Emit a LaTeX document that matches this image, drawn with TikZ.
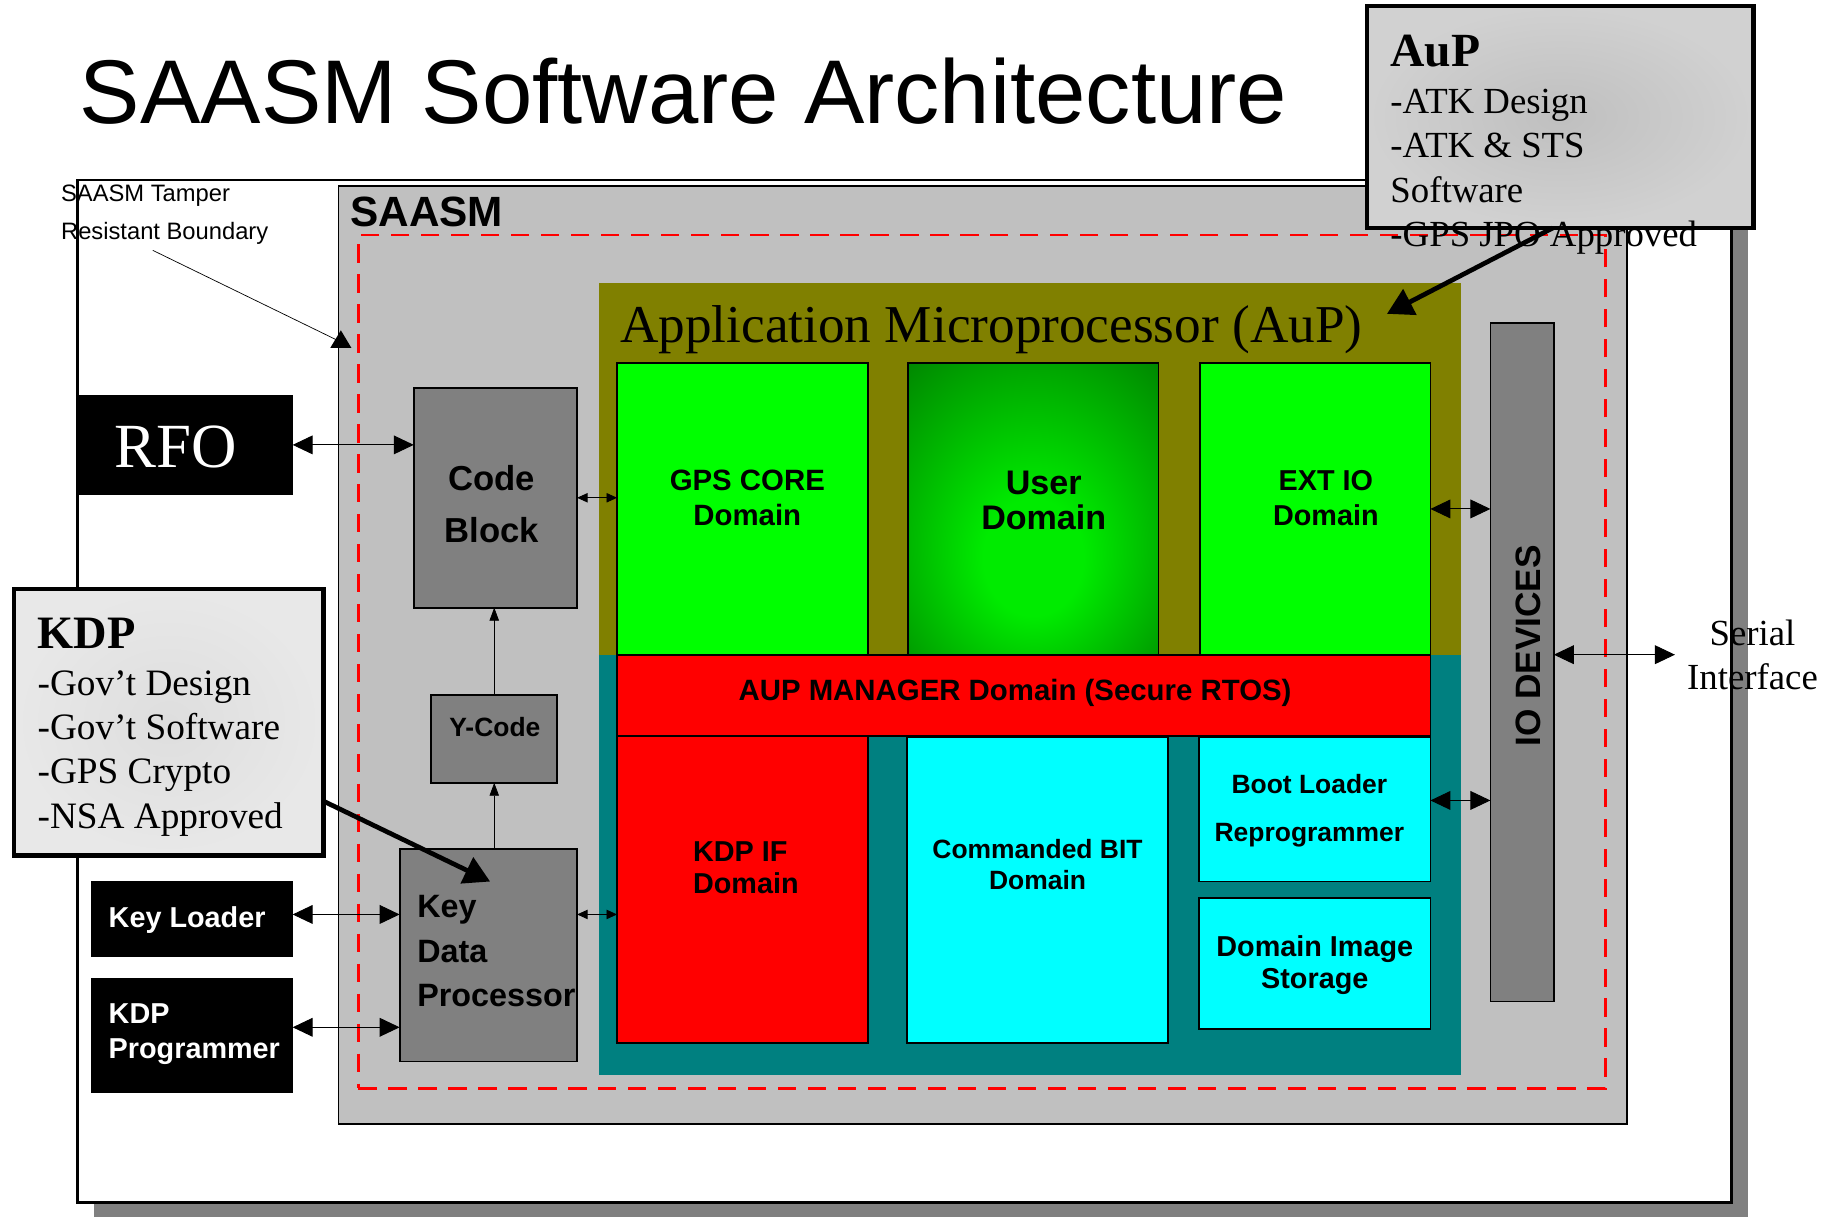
\documentclass[tikz,border=0pt]{standalone}
\usepackage{fontspec}
\setmainfont{Liberation Serif}
\setsansfont{Liberation Sans}
\usetikzlibrary{arrows.meta,calc}
\definecolor{cOlive}{RGB}{128,128,0}
\definecolor{cTeal}{RGB}{0,128,128}
\definecolor{cGreen}{RGB}{0,255,0}
\definecolor{cRed}{RGB}{255,0,0}
\definecolor{cCyan}{RGB}{0,255,255}
\definecolor{cDark}{RGB}{128,128,128}
\definecolor{cSilver}{RGB}{192,192,192}
\definecolor{ucen}{RGB}{0,235,0}
\definecolor{uedge}{RGB}{0,108,0}
\definecolor{aupin}{gray}{0.75}
\definecolor{aupout}{gray}{0.82}
\definecolor{kdpin}{gray}{0.87}
\definecolor{kdpout}{gray}{0.91}
\pgfdeclareradialshading{userglow}{\pgfpoint{0bp}{-10bp}}{color(0bp)=(ucen); color(10bp)=(ucen); color(46bp)=(uedge); color(60bp)=(uedge)}
\newcommand\fsz[2]{\fontsize{#1}{#2}\selectfont}
\begin{document}
\begin{tikzpicture}[x=1pt,y=-1pt,
  box/.style={draw=black, line width=1.5pt, inner sep=0pt, outer sep=0pt},
  flat/.style={inner sep=0pt, outer sep=0pt},
  lbl/.style={inner sep=0pt, outer sep=0pt},
  conn/.style={line width=0.8pt, >={Triangle[length=17pt,width=16pt]}, <->},
  sconn/.style={line width=0.8pt, >={Triangle[length=9pt,width=8pt]}, <->},
  upconn/.style={line width=0.6pt, -{Triangle[length=11pt,width=8pt]}},
  fat/.style={line width=4pt, -{Triangle[length=22pt,width=24pt]}},
  bs/.style={font=\sffamily\bfseries\fsz{#1}{#1}},
]
\useasboundingbox (0,0) rectangle (1568,1035);
\fill[white] (0,0) rectangle (1568,1035);
% shadow and outer boundary
\fill[cDark] (80,166) rectangle (1487,1035);
\node[box, fill=white, line width=2pt, minimum width=1407pt, minimum height=870pt] (outer) at (769.5,588) {};
% title
\node[lbl, anchor=base west, font=\sffamily\fsz{77}{77}] (title) at (68,105) {SAASM Software Architecture};
% tamper label
\node[lbl, anchor=base west, font=\sffamily\fsz{20.2}{32}] (tamper) at (52,171.6) {\begin{tabular}[t]{@{}l@{}}SAASM Tamper\\Resistant Boundary\end{tabular}};
% SAASM box
\node[box, fill=cSilver, minimum width=1096pt, minimum height=798pt] (saasm) at (836,557) {};
\node[lbl, anchor=base west, bs=36] (tsaasm) at (298,193) {SAASM};
\node[flat, draw=cRed, line width=2.2pt, dash pattern=on 15.5pt off 10pt, minimum width=1061pt, minimum height=726pt] (tamperb) at (835.5,563) {};
% leader line
\coordinate (tstart) at (130,213);
\coordinate (ttip) at (286,289);
\draw[line width=0.6pt] (tstart) -- (ttip);
\fill (290,281) -- (281,296) -- (299,296) -- cycle;
% AuP regions
\node[flat, fill=cOlive, minimum width=733pt, minimum height=316pt] (olive) at (876.5,399) {};
\node[flat, fill=cTeal, minimum width=733pt, minimum height=358pt] (teal) at (876.5,736) {};
\node[lbl, anchor=base west, font=\rmfamily\fsz{45.3}{45}] (taup) at (527.6,291.5) {Application Microprocessor (AuP)};
\node[box, fill=cGreen, minimum width=213.5pt, minimum height=248pt] (gps) at (631.75,433) {};
\node[box, shade, shading=userglow, minimum width=213.1pt, minimum height=248pt] (user) at (879.15,433) {};
\node[box, fill=cGreen, minimum width=196pt, minimum height=248pt] (ext) at (1119,433) {};
\node[box, fill=cRed, minimum width=692pt, minimum height=69pt] (mgr) at (871,591.5) {};
\node[box, fill=cRed, minimum width=213.5pt, minimum height=261.6pt] (kdpif) at (631.75,756.8) {};
\node[box, fill=cCyan, minimum width=222.4pt, minimum height=260.9pt] (cbit) at (882.8,757.15) {};
\node[box, fill=cCyan, minimum width=197pt, minimum height=123.3pt] (boot) at (1118.5,688.35) {};
\node[box, fill=cCyan, minimum width=197pt, minimum height=111.6pt] (dis) at (1118.5,819.8) {};
\node[box, fill=cDark, minimum width=54pt, minimum height=577pt] (io) at (1295,563.5) {};
% domain texts
\node[lbl, anchor=base, font=\sffamily\bfseries\fsz{25}{29.2}] (tgps) at (635.8,417.5) {\begin{tabular}[t]{@{}c@{}}GPS CORE\\Domain\end{tabular}};
\node[lbl, anchor=base, font=\sffamily\bfseries\fsz{29}{29.7}] (tuser) at (888,420.3) {\begin{tabular}[t]{@{}c@{}}User\\Domain\end{tabular}};
\node[lbl, anchor=base, font=\sffamily\bfseries\fsz{24.5}{29.7}] (text) at (1128,417) {\begin{tabular}[t]{@{}c@{}}EXT IO\\Domain\end{tabular}};
\node[lbl, anchor=base, bs=25] (tmgr) at (863.6,595.6) {AUP MANAGER Domain (Secure RTOS)};
\node[lbl, anchor=base west, font=\sffamily\bfseries\fsz{24.5}{27}] (tkdpif) at (589.6,733) {\begin{tabular}[t]{@{}l@{}}KDP IF\\Domain\end{tabular}};
\node[lbl, anchor=base, font=\sffamily\bfseries\fsz{22.5}{27}] (tcbit) at (882.7,730) {\begin{tabular}[t]{@{}c@{}}Commanded BIT\\Domain\end{tabular}};
\node[lbl, anchor=base, font=\sffamily\bfseries\fsz{22.5}{41.2}] (tboot) at (1114,674.8) {\begin{tabular}[t]{@{}c@{}}Boot Loader\\Reprogrammer\end{tabular}};
\node[lbl, anchor=base, font=\sffamily\bfseries\fsz{24.5}{26.6}] (tdis) at (1118.6,814) {\begin{tabular}[t]{@{}c@{}}Domain Image\\Storage\end{tabular}};
\node[lbl, rotate=90, bs=30] (tio) at (1300,549.5) {IO DEVICES};
% left processing blocks
\node[box, fill=cDark, minimum width=139pt, minimum height=187pt] (code) at (421.5,423.5) {};
\node[box, fill=cDark, minimum width=107pt, minimum height=75pt] (ycode) at (420.5,628.5) {};
\node[box, fill=cDark, minimum width=151pt, minimum height=181pt] (kdproc) at (415.5,812.5) {};
\node[lbl, anchor=base, font=\sffamily\bfseries\fsz{29.5}{44.7}] (tcode) at (418.5,417) {\begin{tabular}[t]{@{}c@{}}Code\\Block\end{tabular}};
\node[lbl, anchor=base, bs=22.5] (tycode) at (421,627) {Y-Code};
\node[lbl, anchor=base west, font=\sffamily\bfseries\fsz{27.5}{37.8}] (tkdproc) at (355,781) {\begin{tabular}[t]{@{}l@{}}Key\\Data\\Processor\end{tabular}};
% external black blocks
\node[flat, fill=black, minimum width=184pt, minimum height=85pt] (rfo) at (157,378.5) {};
\node[flat, fill=black, minimum width=171.6pt, minimum height=64.5pt] (kl) at (163.2,781.75) {};
\node[flat, fill=black, minimum width=171.6pt, minimum height=98.3pt] (kdpprog) at (163.2,880.85) {};
\node[lbl, anchor=base west, text=white, font=\rmfamily\fsz{53.5}{53}] (trfo) at (97.6,398) {RFO};
\node[lbl, anchor=base west, text=white, bs=24.5] (tkl) at (92.5,789.3) {Key Loader};
\node[lbl, anchor=base west, text=white, font=\sffamily\bfseries\fsz{24.5}{29.7}] (tkdpprog) at (92.5,871) {\begin{tabular}[t]{@{}l@{}}KDP\\Programmer\end{tabular}};
% connectors
\coordinate (ser) at (1425,557);
\draw[conn] (rfo.east) -- (rfo.east -| code.west);
\draw[sconn] (code.east) -- (code.east -| gps.west);
\draw[conn] (ext.east) -- (ext.east -| io.west);
\draw[conn] ([yshift=7.35pt]boot.east) -- ([yshift=7.35pt]boot.east -| io.west);
\draw[conn] ([yshift=6.5pt]io.east) -- (ser);
\draw[sconn] ([yshift=34.5pt]kdproc.east) -- ([yshift=34.5pt]kdproc.east -| kdpif.west);
\draw[conn] ([yshift=3.75pt]kl.east) -- ([yshift=3.75pt]kl.east -| kdproc.west);
\draw[conn] ([yshift=6.85pt]kdpprog.east) -- ([yshift=6.85pt]kdpprog.east -| kdproc.west);
\draw[upconn] (ycode.south |- kdproc.north) -- (ycode.south);
\draw[upconn] (ycode.north) -- (ycode.north |- code.south);
% KDP note
\node[draw=black, line width=4pt, inner sep=0pt, outer sep=0pt, inner color=kdpin, outer color=kdpout, minimum width=263pt, minimum height=227pt] (kdpn) at (143.5,614.5) {};
\node[lbl, anchor=base west, font=\rmfamily\bfseries\fsz{39.5}{40}] (tkdpn) at (32,552) {KDP};
\node[lbl, anchor=base west, font=\rmfamily\fsz{31.7}{37.5}] (tkdpl) at (32,592) {\begin{tabular}[t]{@{}l@{}}-Gov’t Design\\-Gov’t Software\\-GPS Crypto\\-NSA Approved\end{tabular}};
\coordinate (kdptip) at (417,750);
\draw[fat] ([yshift=-180.5pt]kdpn.north east) -- (kdptip);
% AuP note
\node[draw=black, line width=4pt, inner sep=0pt, outer sep=0pt, inner color=aupin, outer color=aupout, minimum width=329pt, minimum height=189pt] (aupn) at (1327.5,99.5) {};
\node[lbl, anchor=base west, font=\rmfamily\bfseries\fsz{40.5}{40}] (taupn) at (1183,56.7) {AuP};
\node[lbl, anchor=base west, font=\rmfamily\fsz{31.3}{37.9}] (taupl) at (1183,96.4) {\begin{tabular}[t]{@{}l@{}}-ATK Design\\-ATK \& STS\\Software\\-GPS JPO Approved\end{tabular}};
\coordinate (auptip) at (1180,267);
\draw[fat] ([xshift=-6.5pt]aupn.south) -- (auptip);
% serial interface
\node[lbl, anchor=base, font=\rmfamily\fsz{31.3}{37.6}] (tser) at (1491,549.4) {\begin{tabular}[t]{@{}c@{}}Serial\\Interface\end{tabular}};
\end{tikzpicture}
\end{document}
